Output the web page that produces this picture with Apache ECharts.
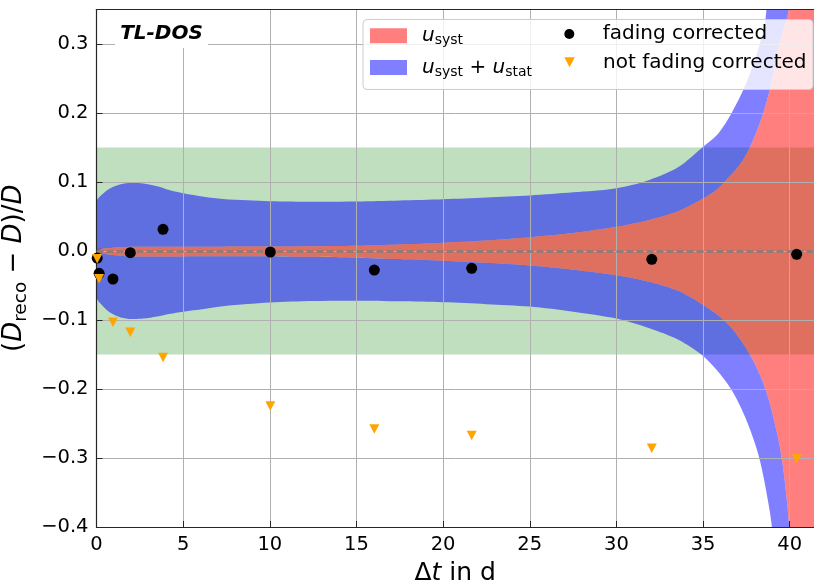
<!DOCTYPE html>
<html><head><meta charset="utf-8">
<script src="https://cdn.jsdelivr.net/npm/echarts@6/dist/echarts.min.js"></script>
<style>html,body{margin:0;padding:0;background:#fff}#c{width:814px;height:584px}</style>
</head><body><div id="c"></div>
<script>
// measurement points
const dtDays = [0.04, 0.15, 0.95, 1.95, 3.84, 10.03, 16.03, 21.65, 32.04, 40.4];
const devCorrected = [-0.0102, -0.0323, -0.0406, -0.0025, 0.0315, -0.0015, -0.0276, -0.0251, -0.0120, -0.0048];
const devUncorrected = [-0.0112, -0.0402, -0.1033, -0.1179, -0.1542, -0.2245, -0.2579, -0.2673, -0.2857, -0.3007];

// uncertainty band edges
const bandT = [0, 0.4, 0.8, 1.4, 2, 2.7, 3.5, 4.2, 5, 6.2, 7.3, 8.7, 10, 12.5, 15, 17.5, 20, 22.5, 25, 27.5, 30, 31.9, 33.6, 35, 35.8, 36.6, 37.2, 37.7, 38.2, 38.6, 39.0, 39.4, 39.7, 40.0, 40.3, 41.4];
const totUpper = [0.0715, 0.0837, 0.091, 0.0967, 0.099, 0.098, 0.094, 0.0885, 0.0837, 0.0788, 0.0755, 0.0735, 0.0722, 0.0715, 0.0718, 0.0732, 0.075, 0.0775, 0.0805, 0.085, 0.091, 0.103, 0.122, 0.151, 0.168, 0.198, 0.227, 0.257, 0.294, 0.335, 0.5, 0.8, 1.2, 2, 2, 2];
const systUpper = [0.0025, 0.0035, 0.0045, 0.0055, 0.006, 0.0062, 0.0063, 0.0063, 0.0063, 0.0063, 0.0063, 0.0064, 0.0065, 0.007, 0.0077, 0.0095, 0.012, 0.0152, 0.02, 0.026, 0.035, 0.045, 0.058, 0.076, 0.089, 0.11, 0.128, 0.15, 0.18, 0.21, 0.25, 0.3, 0.325, 0.36, 2, 2];
const systLower = [-0.0025, -0.004, -0.0055, -0.0068, -0.0078, -0.008, -0.008, -0.0079, -0.0078, -0.0077, -0.0076, -0.0075, -0.0075, -0.0085, -0.0097, -0.0117, -0.0141, -0.0172, -0.021, -0.027, -0.035, -0.0445, -0.058, -0.078, -0.092, -0.11, -0.13, -0.15, -0.175, -0.2, -0.235, -0.28, -0.33, -0.42, -2, -2];
const totLower = [-0.067, -0.0807, -0.0894, -0.0962, -0.0986, -0.098, -0.095, -0.0914, -0.088, -0.084, -0.08, -0.0769, -0.0745, -0.0725, -0.0721, -0.073, -0.0744, -0.077, -0.0805, -0.088, -0.098, -0.1121, -0.129, -0.152, -0.173, -0.1997, -0.228, -0.258, -0.296, -0.342, -0.41, -0.8, -2, -2, -2, -2];

const xTicks = [0, 5, 10, 15, 20, 25, 30, 35, 40];
const yTicks = [-0.4, -0.3, -0.2, -0.1, 0.0, 0.1, 0.2, 0.3];
const toleranceBand = [-0.15, 0.15];
const referenceLevel = 0;

const FONT = 'DejaVu Sans';
const chart = echarts.init(document.getElementById('c'), null, {renderer: 'canvas'});

function polyPoints(api, xs, top, bottom) {
  const pts = [];
  for (let i = 0; i < xs.length; i++) pts.push(api.coord([xs[i], top[i]]));
  for (let i = xs.length - 1; i >= 0; i--) pts.push(api.coord([xs[i], bottom[i]]));
  return pts;
}

const legendRich = {
  u: {fontFamily: FONT, fontStyle: 'italic', fontSize: 20, lineHeight: 24, color: '#000'},
  s: {fontFamily: FONT, fontSize: 14, lineHeight: 24, padding: [10, 0, 0, 0], color: '#000'},
  n: {fontFamily: FONT, fontSize: 20, lineHeight: 24, color: '#000'}
};
const legendLabels = {
  'usyst': '{u|u}{s|syst}',
  'usyststat': '{u|u}{s|syst}{n| + }{u|u}{s|stat}',
  'fading corrected': '{n|fading corrected}',
  'not fading corrected': '{n|not fading corrected}'
};
function mkLegend(name, left, top, iw, ih, icon) {
  const d = {name: name};
  if (icon) d.icon = icon;
  return {
    data: [d], left: left, top: top, padding: 0, itemWidth: iw, itemHeight: ih,
    selectedMode: false, z: 12, orient: 'vertical',
    formatter: n => legendLabels[n],
    textStyle: {fontFamily: FONT, fontSize: 20, color: '#000', padding: [0, 0, 0, 10], rich: legendRich}
  };
}
const triPath = 'path://M0,0L10,0L5,9.5Z';

const option = {
  animation: false,
  grid: {left: 96.5, right: 0, top: 9.5, bottom: 57, outerBoundsMode: 'none', containLabel: false},
  xAxis: [{
    type: 'value', min: 0, max: 41.4, interval: 5, z: 3,
    axisLine: {show: true, onZero: false, lineStyle: {color: '#262626', width: 1.2}},
    axisTick: {show: true, inside: true, length: 6, lineStyle: {color: '#262626', width: 1}},
    axisLabel: {showMaxLabel: false, margin: 8, fontFamily: FONT, fontSize: 19.5, color: '#000',
      formatter: v => (xTicks.indexOf(v) >= 0 ? String(v) : '')},
    splitLine: {show: true, lineStyle: {color: '#b0b0b0', width: 1}},
    name: '{n|Δ}{i|t}{n| in d}', nameLocation: 'middle', nameGap: 34,
    nameTextStyle: {fontFamily: FONT, fontSize: 25, color: '#000', rich: {
      n: {fontFamily: FONT, fontSize: 25, color: '#000'},
      i: {fontFamily: FONT, fontSize: 25, fontStyle: 'italic', color: '#000'}}}
  }, {
    type: 'value', position: 'top', min: 0, max: 41.4, interval: 5, z: 3,
    axisLine: {show: true, onZero: false, lineStyle: {color: '#262626', width: 1.2}},
    axisTick: {show: false}, axisLabel: {show: false}, splitLine: {show: false}
  }],
  yAxis: {
    type: 'value', min: -0.4, max: 0.35, interval: 0.1, z: 3,
    axisLine: {show: true, onZero: false, lineStyle: {color: '#262626', width: 1.2}},
    axisTick: {show: true, inside: true, length: 6, lineStyle: {color: '#262626', width: 1}},
    axisLabel: {showMaxLabel: false, margin: 8, fontFamily: FONT, fontSize: 19.5, color: '#000',
      formatter: v => {
        const k = yTicks.findIndex(t => Math.abs(t - v) < 1e-9);
        if (k < 0) return '';
        const t = yTicks[k];
        return (t < -1e-9 ? '\u2212' : '') + Math.abs(t).toFixed(1);
      }},
    splitLine: {show: true, lineStyle: {color: '#b0b0b0', width: 1}},
    name: '{n|(}{i|D}{s|reco}{n| \u2212 }{i|D}{n|)/}{i|D}', nameLocation: 'middle', nameRotate: 90, nameGap: 52,
    nameTextStyle: {fontFamily: FONT, fontSize: 26, color: '#000', rich: {
      n: {fontFamily: FONT, fontSize: 26, lineHeight: 30, color: '#000'},
      i: {fontFamily: FONT, fontSize: 26, fontStyle: 'italic', lineHeight: 30, color: '#000'},
      s: {fontFamily: FONT, fontSize: 18.5, lineHeight: 30, padding: [12, 0, 0, 0], color: '#000'}}}
  },
  legend: [
    mkLegend('usyst', 370, 23.8, 37, 15, 'rect'),
    mkLegend('usyststat', 370, 55.5, 37, 15, 'rect'),
    mkLegend('fading corrected', 564.3, 24, 37, 10),
    mkLegend('not fading corrected', 564.3, 52.3, 37, 10)
  ],
  graphic: [
    {type: 'rect', z: 11, silent: true, shape: {x: 363, y: 19.5, width: 450, height: 70, r: 4},
      style: {fill: 'rgba(255,255,255,0.8)', stroke: '#cccccc', lineWidth: 1}},
    {type: 'rect', z: 11, silent: true, shape: {x: 115, y: 10, width: 93, height: 38},
      style: {fill: '#ffffff'}},
    {type: 'text', z: 12, silent: true, style: {text: 'TL-DOS', x: 161.5, y: 34, textAlign: 'center', textVerticalAlign: 'middle',
      font: 'italic bold 20px "DejaVu Sans"', fill: '#000'}}
  ],
  series: [
    {
      name: 'usyststat', type: 'custom', clip: true, silent: true, z: 2,
      itemStyle: {color: 'rgba(0,0,255,0.5)'},
      data: [[0, 0]],
      renderItem: (params, api) => ({
        type: 'group', children: [
          {type: 'polygon', shape: {points: polyPoints(api, bandT, totUpper, systUpper), smooth: 0.3}, style: {fill: 'rgba(0,0,255,0.5)'}},
          {type: 'polygon', shape: {points: polyPoints(api, bandT, systLower, totLower), smooth: 0.3}, style: {fill: 'rgba(0,0,255,0.5)'}}
        ]
      }),
      markArea: {silent: true, z: 1, itemStyle: {color: 'rgba(0,128,0,0.25)'},
        data: [[{yAxis: toleranceBand[0]}, {yAxis: toleranceBand[1]}]]}
    },
    {
      name: 'usyst', type: 'custom', clip: true, silent: true, z: 2,
      itemStyle: {color: 'rgba(255,0,0,0.5)'},
      data: [[0, 0]],
      renderItem: (params, api) => ({
        type: 'polygon', shape: {points: polyPoints(api, bandT, systUpper, systLower), smooth: 0.3}, style: {fill: 'rgba(255,0,0,0.5)'}
      })
    },
    {
      name: 'fading corrected', type: 'scatter', z: 6, symbol: 'circle', symbolSize: 11,
      itemStyle: {color: '#000', opacity: 1},
      data: dtDays.map((t, i) => [t, devCorrected[i]]),
      markLine: {silent: true, z: 5, symbol: ['none', 'none'], label: {show: false}, animation: false,
        lineStyle: {color: '#808080', width: 2.5, type: [7, 3], opacity: 1},
        emphasis: {disabled: true},
        data: [{yAxis: referenceLevel, lineStyle: {color: '#808080', width: 2.5, type: [7, 3]}}]}
    },
    {
      name: 'not fading corrected', type: 'scatter', z: 7, symbol: triPath, symbolSize: [10, 9.5],
      itemStyle: {color: '#ffa500', opacity: 1},
      data: dtDays.map((t, i) => [t, devUncorrected[i]])
    }
  ]
};
chart.setOption(option);
</script></body></html>
